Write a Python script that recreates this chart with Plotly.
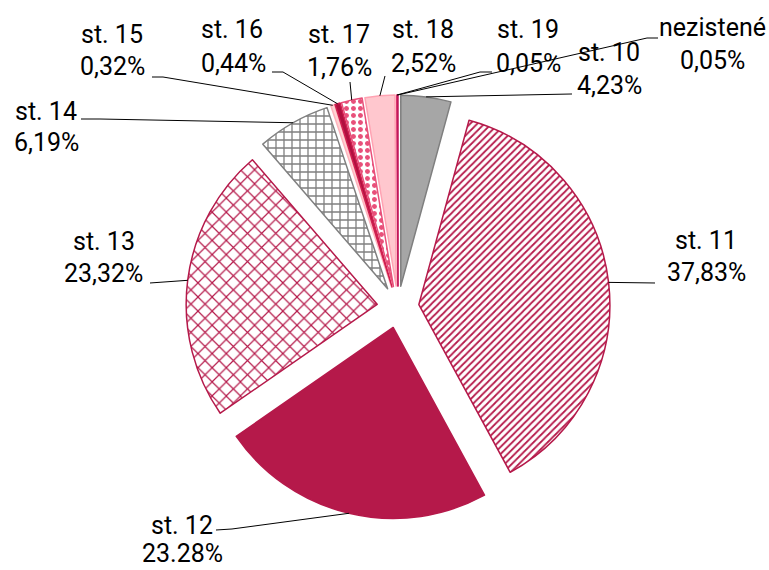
import math
import plotly.graph_objects as go

# ---- data ----
categories = ["st. 10", "st. 11", "st. 12", "st. 13", "st. 14", "st. 15",
              "st. 16", "st. 17", "st. 18", "st. 19", "nezistené"]
values = [4.23, 37.83, 23.28, 23.32, 6.19, 0.32, 0.44, 1.76, 2.52, 0.05, 0.05]
pct_labels = ["4,23%", "37,83%", "23.28%", "23,32%", "6,19%", "0,32%",
              "0,44%", "1,76%", "2,52%", "0,05%", "0,05%"]

# ---- styles ----
W, H = 769, 570
CRIMSON = "#B5194A"
fill_colors = ["#A6A6A6", "white", CRIMSON, "white", "white", "#FFD3D3",
               "#B0103F", "white", "#FFC7CE", "#E8457A", "#C0185A"]
line_colors = ["#7F7F7F", CRIMSON, CRIMSON, CRIMSON, "#808080", "#FFB3BC",
               "#D02050", "#E8507A", "#FFA3B3", "#E8457A", "#C0185A"]
pat_shapes = ["", "/", "", "x", "+", "", "", ".", "", "", ""]
pat_fg = ["#A6A6A6", CRIMSON, CRIMSON, CRIMSON, "#808080", "#FFD3D3",
          "#B0103F", "#E8507A", "#FFC7CE", "#E8457A", "#C0185A"]
pat_size = [8, 5, 8, 10, 8, 8, 8, 7, 8, 8, 8]
pat_sol = [0.3, 0.35, 0.3, 0.22, 0.3, 0.3, 0.3, 0.4, 0.3, 0.3, 0.3]
PULL = 0.11

# pie geometry (px): domain square
dom_x = [186, 610]
dom_y_top = [95, 519]
cx = (dom_x[0] + dom_x[1]) / 2
cy = (dom_y_top[0] + dom_y_top[1]) / 2
R_out = (dom_x[1] - dom_x[0]) / 2  # r*(1+pull)

# label placement (px centers of the two text lines) and leader elbow points
label_pos = {
    "st. 10": (609, 53, 609, 85),
    "st. 11": (706, 240, 706, 273),
    "st. 12": (182, 525, 182, 553),
    "st. 13": (104, 241, 103, 274),
    "st. 14": (46, 112, 46, 142),
    "st. 15": (112, 35, 112, 66),
    "st. 16": (232, 30, 233, 63),
    "st. 17": (339, 35, 339, 67),
    "st. 18": (423, 30, 423, 63),
    "st. 19": (528, 30, 528, 63),
    "nezistené": (712, 27, 712, 60),
}
leader_pts = {
    "st. 10": [(572, 94)],
    "st. 11": [(655, 283)],
    "st. 12": [(232, 529), (216, 530)],
    "st. 13": [(150, 283)],
    "st. 14": [(100, 119), (81, 119)],
    "st. 15": [(163, 77), (152, 77)],
    "st. 16": [(283, 72), (272, 72)],
    "st. 17": [(350, 82)],
    "st. 18": [(385, 76)],
    "st. 19": [(480, 72), (492, 72)],
    "nezistené": [(647, 38), (658, 38)],
}


def px(x, y):
    return x / W, 1 - y / H


fig = go.Figure(go.Pie(
    labels=categories, values=values, sort=False, direction="clockwise",
    rotation=0, pull=[PULL] * len(values), textinfo="none", hoverinfo="label+percent",
    marker=dict(colors=fill_colors,
                line=dict(color=line_colors, width=1.5),
                pattern=dict(shape=pat_shapes, fgcolor=pat_fg, bgcolor="white",
                             size=pat_size, solidity=pat_sol, fillmode="replace")),
    domain=dict(x=[dom_x[0] / W, dom_x[1] / W],
                y=[1 - dom_y_top[1] / H, 1 - dom_y_top[0] / H]),
    showlegend=False,
))

FONT = dict(family="Liberation Sans Narrow, Arial Narrow, Roboto, sans-serif",
            size=25, color="black")

total = sum(values)
cum = 0.0
shapes, annotations = [], []
for cat, v, pl in zip(categories, values, pct_labels):
    mid = (cum + v / 2) / total * 2 * math.pi
    cum += v
    ax, ay = cx + R_out * math.sin(mid), cy - R_out * math.cos(mid)
    pts = [(ax, ay)] + leader_pts[cat]
    path = "M " + " L ".join("%f,%f" % px(x, y) for x, y in pts)
    shapes.append(dict(type="path", path=path, xref="paper", yref="paper",
                       line=dict(color="black", width=1)))
    x1, y1, x2, y2 = label_pos[cat]
    for t, (tx, ty) in ((cat, (x1, y1)), (pl, (x2, y2))):
        X, Y = px(tx, ty)
        annotations.append(dict(text=t, x=X, y=Y, xref="paper", yref="paper",
                                xanchor="center", yanchor="middle",
                                showarrow=False, font=FONT))

fig.update_layout(width=W, height=H, margin=dict(l=0, r=0, t=0, b=0),
                  paper_bgcolor="white", plot_bgcolor="white",
                  shapes=shapes, annotations=annotations)
fig.write_html("out.html", config={"displayModeBar": False},
               post_script="document.body.style.margin='0px';"
                           "document.body.style.overflow='hidden';")
